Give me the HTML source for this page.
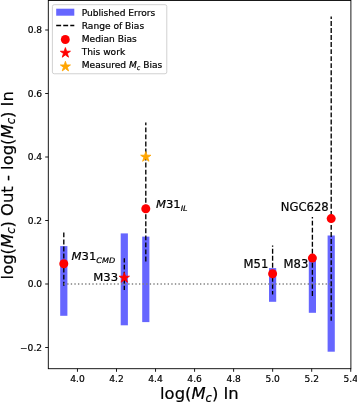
<!DOCTYPE html>
<html><head><meta charset="utf-8"><title>Bias plot</title>
<style>html,body{margin:0;padding:0;background:#fff;overflow:hidden}svg{display:block}text{font-family:"DejaVu Sans","Liberation Sans",sans-serif;fill:#000;stroke:#000;stroke-width:0.2}.i{font-style:oblique}</style></head><body>
<svg width="357" height="403" viewBox="0 0 357 403">
<rect width="357" height="403" fill="#fff"/>
<rect x="60.20" y="246.10" width="7.2" height="69.70" fill="#6666ff"/>
<rect x="120.70" y="233.40" width="7.2" height="91.90" fill="#6666ff"/>
<rect x="142.20" y="236.60" width="7.2" height="85.50" fill="#6666ff"/>
<rect x="269.00" y="268.10" width="7.2" height="33.70" fill="#6666ff"/>
<rect x="308.80" y="258.30" width="7.2" height="54.50" fill="#6666ff"/>
<rect x="327.60" y="235.50" width="7.2" height="116.20" fill="#6666ff"/>
<line x1="63.80" y1="285.70" x2="63.80" y2="231.20" stroke="#000" stroke-width="1.34" stroke-dasharray="4.91 2.123" stroke-dashoffset="0.9"/>
<line x1="124.30" y1="289.90" x2="124.30" y2="258.30" stroke="#000" stroke-width="1.34" stroke-dasharray="4.91 2.123" stroke-dashoffset="0.8"/>
<line x1="145.80" y1="261.40" x2="145.80" y2="208.70" stroke="#000" stroke-width="1.34" stroke-dasharray="4.91 2.123" stroke-dashoffset="0"/>
<line x1="145.80" y1="209.70" x2="145.80" y2="122.50" stroke="#000" stroke-width="1.34" stroke-dasharray="4.91 2.123" stroke-dashoffset="0"/>
<line x1="272.60" y1="294.40" x2="272.60" y2="245.60" stroke="#000" stroke-width="1.34" stroke-dasharray="4.91 2.123" stroke-dashoffset="1.5"/>
<line x1="312.40" y1="296.60" x2="312.40" y2="216.90" stroke="#000" stroke-width="1.34" stroke-dasharray="4.91 2.123" stroke-dashoffset="-0.7"/>
<line x1="331.20" y1="320.80" x2="331.20" y2="16.50" stroke="#000" stroke-width="1.34" stroke-dasharray="4.91 2.123" stroke-dashoffset="0.5"/>
<line x1="63.6" y1="284.0" x2="331.2" y2="284.0" stroke="#808080" stroke-width="1.36" stroke-dasharray="1.36 2.229"/>
<circle cx="63.80" cy="263.80" r="4.5" fill="#ff0000"/>
<circle cx="145.80" cy="208.70" r="4.5" fill="#ff0000"/>
<circle cx="272.60" cy="273.80" r="4.5" fill="#ff0000"/>
<circle cx="312.40" cy="258.10" r="4.5" fill="#ff0000"/>
<circle cx="331.20" cy="218.60" r="4.5" fill="#ff0000"/>
<polygon points="124.30,272.50 125.51,276.23 129.44,276.23 126.26,278.54 127.47,282.27 124.30,279.96 121.13,282.27 122.34,278.54 119.16,276.23 123.09,276.23" fill="#ff0000" stroke="#ff0000" stroke-width="0.85" stroke-linejoin="miter"/>
<polygon points="145.80,151.50 147.01,155.23 150.94,155.23 147.76,157.54 148.97,161.27 145.80,158.96 142.63,161.27 143.84,157.54 140.66,155.23 144.59,155.23" fill="#ffa500" stroke="#ffa500" stroke-width="0.85" stroke-linejoin="miter"/>
<rect x="48.3" y="0.45" width="302.59999999999997" height="368.25" fill="none" stroke="#000" stroke-width="0.9"/>
<line x1="77.46" y1="368.7" x2="77.46" y2="371.8" stroke="#000" stroke-width="0.9"/>
<text x="77.46" y="382.1" font-size="9.1" text-anchor="middle">4.0</text>
<line x1="116.50" y1="368.7" x2="116.50" y2="371.8" stroke="#000" stroke-width="0.9"/>
<text x="116.50" y="382.1" font-size="9.1" text-anchor="middle">4.2</text>
<line x1="155.54" y1="368.7" x2="155.54" y2="371.8" stroke="#000" stroke-width="0.9"/>
<text x="155.54" y="382.1" font-size="9.1" text-anchor="middle">4.4</text>
<line x1="194.58" y1="368.7" x2="194.58" y2="371.8" stroke="#000" stroke-width="0.9"/>
<text x="194.58" y="382.1" font-size="9.1" text-anchor="middle">4.6</text>
<line x1="233.62" y1="368.7" x2="233.62" y2="371.8" stroke="#000" stroke-width="0.9"/>
<text x="233.62" y="382.1" font-size="9.1" text-anchor="middle">4.8</text>
<line x1="272.66" y1="368.7" x2="272.66" y2="371.8" stroke="#000" stroke-width="0.9"/>
<text x="272.66" y="382.1" font-size="9.1" text-anchor="middle">5.0</text>
<line x1="311.70" y1="368.7" x2="311.70" y2="371.8" stroke="#000" stroke-width="0.9"/>
<text x="311.70" y="382.1" font-size="9.1" text-anchor="middle">5.2</text>
<line x1="350.74" y1="368.7" x2="350.74" y2="371.8" stroke="#000" stroke-width="0.9"/>
<text x="350.74" y="382.1" font-size="9.1" text-anchor="middle">5.4</text>
<line x1="45.199999999999996" y1="347.50" x2="48.3" y2="347.50" stroke="#000" stroke-width="0.9"/>
<text x="42.10" y="350.90" font-size="9.1" text-anchor="end">−0.2</text>
<line x1="45.199999999999996" y1="284.00" x2="48.3" y2="284.00" stroke="#000" stroke-width="0.9"/>
<text x="42.10" y="287.40" font-size="9.1" text-anchor="end">0.0</text>
<line x1="45.199999999999996" y1="220.50" x2="48.3" y2="220.50" stroke="#000" stroke-width="0.9"/>
<text x="42.10" y="223.90" font-size="9.1" text-anchor="end">0.2</text>
<line x1="45.199999999999996" y1="157.00" x2="48.3" y2="157.00" stroke="#000" stroke-width="0.9"/>
<text x="42.10" y="160.40" font-size="9.1" text-anchor="end">0.4</text>
<line x1="45.199999999999996" y1="93.50" x2="48.3" y2="93.50" stroke="#000" stroke-width="0.9"/>
<text x="42.10" y="96.90" font-size="9.1" text-anchor="end">0.6</text>
<line x1="45.199999999999996" y1="30.00" x2="48.3" y2="30.00" stroke="#000" stroke-width="0.9"/>
<text x="42.10" y="33.40" font-size="9.1" text-anchor="end">0.8</text>
<text x="199.4" y="399.4" font-size="16.4" text-anchor="middle">log(<tspan class="i">M</tspan><tspan class="i" font-size="11.48" dy="2.21">c</tspan><tspan dy="-2.21">)</tspan> In</text>
<text transform="translate(12.9,185.3) rotate(-90)" font-size="16.4" text-anchor="middle">log(<tspan class="i">M</tspan><tspan class="i" font-size="11.48" dy="2.21">c</tspan><tspan dy="-2.21">)</tspan> Out - log(<tspan class="i">M</tspan><tspan class="i" font-size="11.48" dy="2.21">c</tspan><tspan dy="-2.21">)</tspan> In</text>
<text transform="translate(71.5,259.8) scale(1.075,1)" font-size="10.8"><tspan class="i">M</tspan>31<tspan class="i" font-size="7.56" dy="2.70">CMD</tspan></text>
<text transform="translate(155.9,207.9) scale(1.075,1)" font-size="10.8"><tspan class="i">M</tspan>31<tspan class="i" font-size="7.56" dy="2.70">IL</tspan></text>
<text transform="translate(93.3,280.5) scale(1.075,1)" font-size="10.8">M33</text>
<text x="268.3" y="267.5" font-size="11.6" text-anchor="end">M51</text>
<text x="308.3" y="267.5" font-size="11.6" text-anchor="end">M83</text>
<text x="328.7" y="210.7" font-size="11.6" text-anchor="end">NGC628</text>
<rect x="52.4" y="4.7" width="114.4" height="69.05" rx="1.8" ry="1.8" fill="#fff" fill-opacity="0.8" stroke="#cccccc" stroke-width="0.9"/>
<rect x="56.2" y="8.7" width="18.1" height="7.0" fill="#6666ff"/>
<line x1="56.2" y1="25.5" x2="74.3" y2="25.5" stroke="#000" stroke-width="1.34" stroke-dasharray="4.91 2.123"/>
<circle cx="65.3" cy="39.5" r="4.45" fill="#ff0000"/>
<polygon points="65.40,47.60 66.59,51.26 70.44,51.26 67.33,53.53 68.52,57.19 65.40,54.92 62.28,57.19 63.47,53.53 60.36,51.26 64.21,51.26" fill="#ff0000" stroke="#ff0000" stroke-width="0.85" stroke-linejoin="miter"/>
<polygon points="65.40,61.30 66.59,64.96 70.44,64.96 67.33,67.23 68.52,70.89 65.40,68.62 62.28,70.89 63.47,67.23 60.36,64.96 64.21,64.96" fill="#ffa500" stroke="#ffa500" stroke-width="0.85" stroke-linejoin="miter"/>
<text x="81.7" y="15.50" font-size="9.1">Published Errors</text>
<text x="81.7" y="28.80" font-size="9.1">Range of Bias</text>
<text x="81.7" y="42.40" font-size="9.1">Median Bias</text>
<text x="81.7" y="55.30" font-size="9.1">This work</text>
<text x="81.7" y="68.40" font-size="9.1">Measured <tspan class="i">M</tspan><tspan class="i" font-size="6.37" dy="1.23">c</tspan><tspan dy="-1.23"> Bias</tspan></text>
</svg></body></html>
